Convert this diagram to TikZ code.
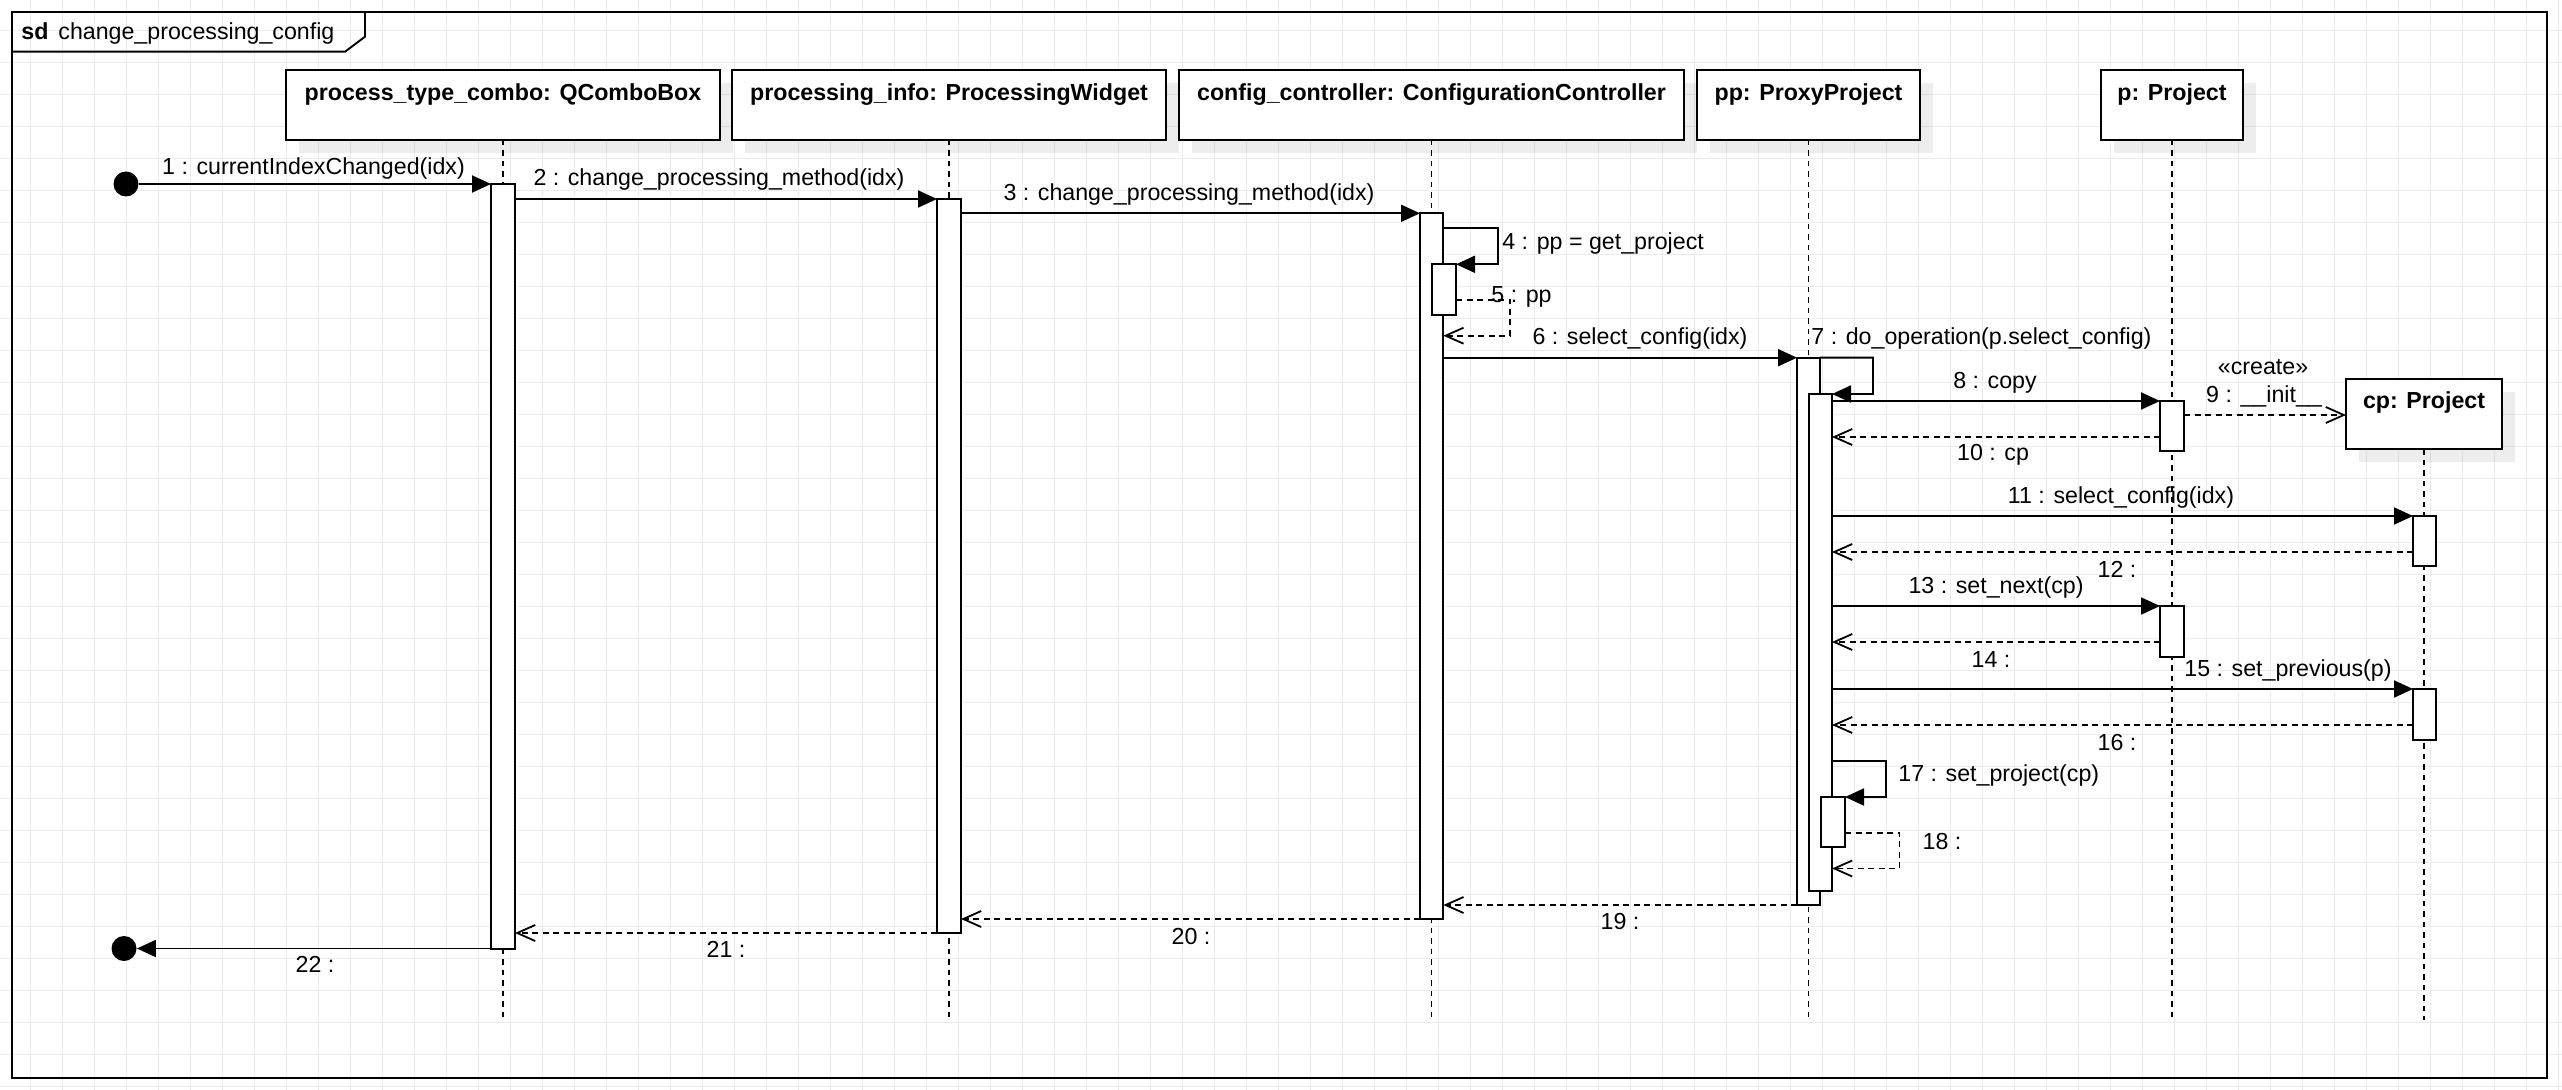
\documentclass[tikz,border=0pt]{standalone}
\usepackage{fontspec}
\setmainfont{Liberation Sans}
\usetikzlibrary{arrows.meta,fit,shadows}
\definecolor{gridc}{HTML}{EBEBEB}
\begin{document}
\begin{tikzpicture}[x=0.5pt,y=-0.5pt,
  every node/.style={font=\fontsize{11.6pt}{13.9pt}\selectfont},
  gridline/.style={draw=gridc,line width=0.5pt},
  frameline/.style={draw=black,line width=0.95pt},
  hdr/.style={draw=black,fill=white,line width=0.95pt,inner sep=0,outer sep=0,
    general shadow={fill=black,opacity=0.07,shadow xshift=6.5pt,shadow yshift=-6.5pt}},
  hdrtext/.style={font=\fontsize{11.6pt}{13.9pt}\selectfont\bfseries,inner sep=0,anchor=base},
  lbl/.style={inner sep=0,text height=0.72em,text depth=0.2em},
  lifeline/.style={draw=black,line width=0.75pt,dash pattern=on 2.75pt off 2.5pt},
  actbar/.style={draw=black,fill=white,line width=0.9pt,inner sep=0,outer sep=0},
  msg/.style={draw=black,line width=0.95pt,-{Triangle[length=9.5pt,width=8.5pt]}},
  ret/.style={draw=black,line width=0.9pt,dash pattern=on 3pt off 2.25pt,-{Straight Barb[length=9pt,width=8pt]}},
  dot/.style={circle,fill=black,inner sep=0,minimum size=12.5pt}
]
\useasboundingbox (0,0) rectangle (2562,1090);
\fill[white] (0,0) rectangle (2562,1090);
% grid
\foreach \i in {0,...,79} { \draw[gridline] ({30.3+32*\i},0) -- ({30.3+32*\i},1090); }
\foreach \j in {0,...,33} { \draw[gridline] (0,{30.3+32*\j}) -- (2562,{30.3+32*\j}); }
% frame
\draw[frameline] (12.3,12.3) rectangle (2547,1078);
\draw[frameline] (12.3,51.7) -- (345,51.7) -- (365,36.7) -- (365,12.3);
\node[anchor=base west,inner sep=0,font=\fontsize{11.6pt}{13.9pt}\selectfont\bfseries] (tsd) at (21,39.3) {sd};
\node[anchor=base west,inner sep=0] (tname) at (58,39.3) {change\_processing\_config};

% lifeline heads
\node[hdr, fit={(286,70) (720,140)}] (h1) {};
\node[hdr, fit={(732,70) (1166,140)}] (h2) {};
\node[hdr, fit={(1179,70) (1684,140)}] (h3) {};
\node[hdr, fit={(1697.25,70) (1919.75,140)}] (h4) {};
\node[hdr, fit={(2100.75,70) (2243.25,140)}] (h5) {};
\node[hdr, fit={(2346,379) (2502,449.3)}] (h6) {};
\node[hdrtext] (t1) at (503,100.5) {process\_type\_combo: QComboBox};
\node[hdrtext] (t2) at (949,100.5) {processing\_info: ProcessingWidget};
\node[hdrtext] (t3) at (1431.5,100.5) {config\_controller: ConfigurationController};
\node[hdrtext] (t4) at (1808.5,100.5) {pp: ProxyProject};
\node[hdrtext] (t5) at (2172,100.5) {p: Project};
\node[hdrtext] (t6) at (2424,409) {cp: Project};

% lifelines
\foreach \h in {h1,h2,h3,h4,h5,h6} { \draw[lifeline] (\h.south) -- (\h.south |- 0,1020); }

% activation bars
\node[actbar, fit={(491,184) (515,949)}] (bA) {};
\node[actbar, fit={(937,199) (961,933)}] (bB) {};
\node[actbar, fit={(1420,213.3) (1443.3,919)}] (bC) {};
\node[actbar, fit={(1432.3,264.3) (1456,315)}] (bC2) {};
\node[actbar, fit={(1797,357.7) (1820,905)}] (bD) {};
\node[actbar, fit={(1809,394) (1832,891)}] (bD2) {};
\node[actbar, fit={(1821,797) (1845,847)}] (bD3) {};
\node[actbar, fit={(2160,401) (2184,451)}] (bE) {};
\node[actbar, fit={(2413,516) (2436,566)}] (bF) {};
\node[actbar, fit={(2160,606) (2184,657)}] (bG) {};
\node[actbar, fit={(2413,689) (2436,740)}] (bH) {};

% start / end
\node[dot] (st) at (126,184) {};
\node[dot] (en) at (124,948.5) {};

% messages
\draw[msg] (st) -- (bA.west |- st);
\draw[msg] (bA.east |- bB.north) -- (bB.north west);
\draw[msg] (bB.east |- bC.north) -- (bC.north west);
\draw[msg] (bC.east |- 0,228.3) -- (1497.7,228.3) -- (1497.7,264.3) -- (bC2.north east);
\draw[ret] (bC2.east |- 0,300) -- (1510,300) -- (1510,335.7) -- (bC.east |- 0,335.7);
\draw[msg] (bC.east |- bD.north) -- (bD.north west);
\draw[msg] (bD.north east) -- (1873,357.7) -- (1873,394) -- (bD2.north east);
\draw[msg] (bD2.east |- bE.north) -- (bE.north west);
\draw[ret] (bE.east |- 0,415) -- (h6.west |- 0,415);
\draw[ret] (bE.west |- 0,437) -- (bD2.east |- 0,437);
\draw[msg] (bD2.east |- bF.north) -- (bF.north west);
\draw[ret] (bF.west |- 0,552) -- (bD2.east |- 0,552);
\draw[msg] (bD2.east |- bG.north) -- (bG.north west);
\draw[ret] (bG.west |- 0,642) -- (bD2.east |- 0,642);
\draw[msg] (bD2.east |- bH.north) -- (bH.north west);
\draw[ret] (bH.west |- 0,725) -- (bD2.east |- 0,725);
\draw[msg] (bD2.east |- 0,761) -- (1886,761) -- (1886,797) -- (bD3.north east);
\draw[ret] (bD3.east |- 0,832.7) -- (1899.5,832.7) -- (1899.5,868.5) -- (bD2.east |- 0,868.5);
\draw[ret] (bD.south west) -- (bC.east |- bD.south);
\draw[ret] (bC.south west) -- (bB.east |- bC.south);
\draw[ret] (bB.south west) -- (bA.east |- bB.south);
\draw[msg] (bA.west |- en) -- (en);

% labels
\node[lbl] (l1) at (313.5,169) {1 : currentIndexChanged(idx)};
\node[lbl] (l2) at (719,180) {2 : change\_processing\_method(idx)};
\node[lbl] (l3) at (1189,195) {3 : change\_processing\_method(idx)};
\node[lbl,anchor=west] (l4) at (1502,244) {4 : pp = get\_project};
\node[lbl,anchor=west] (l5) at (1491,297) {5 : pp};
\node[lbl] (l6) at (1640,339) {6 : select\_config(idx)};
\node[lbl,anchor=west] (l7) at (1811,339) {7 : do\_operation(p.select\_config)};
\node[lbl] (l8) at (1995,383) {8 : copy};
\node[lbl] (l9a) at (2263,369.5) {«create»};
\node[lbl] (l9) at (2264,397) {9 : \_\_init\_\_};
\node[lbl] (l10) at (1993,455) {10 : cp};
\node[lbl] (l11) at (2121,498) {11 : select\_config(idx)};
\node[lbl] (l12) at (2117,572) {12 :};
\node[lbl] (l13) at (1996,588) {13 : set\_next(cp)};
\node[lbl] (l14) at (1991,662) {14 :};
\node[lbl] (l15) at (2288,671) {15 : set\_previous(p)};
\node[lbl] (l16) at (2117,745) {16 :};
\node[lbl,anchor=west] (l17) at (1898,776) {17 : set\_project(cp)};
\node[lbl] (l18) at (1942,844) {18 :};
\node[lbl] (l19) at (1620,924) {19 :};
\node[lbl] (l20) at (1191,939) {20 :};
\node[lbl] (l21) at (726,952) {21 :};
\node[lbl] (l22) at (315,967) {22 :};
\end{tikzpicture}
\end{document}
